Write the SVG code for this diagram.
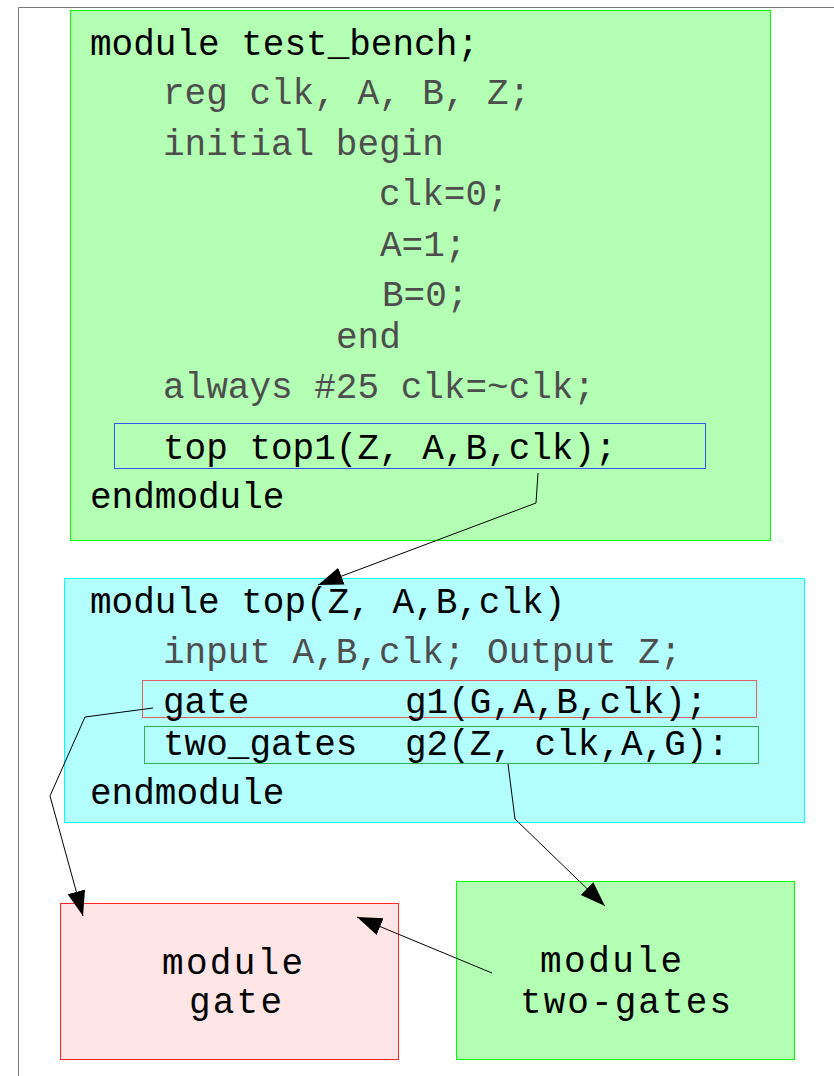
<svg xmlns="http://www.w3.org/2000/svg" width="834" height="1076" viewBox="0 0 834 1076">
  <style>
    .code { font-family: "Liberation Mono", "DejaVu Sans Mono", monospace; font-size: 36px; fill: #000; }
    .dim { fill: #4d4d4d; }
    .wire { fill: none; stroke: #000; stroke-width: 1; marker-end: url(#head); }
  </style>
  <defs>
    <marker id="head" markerUnits="userSpaceOnUse" markerWidth="26" markerHeight="20" refX="25" refY="9" orient="auto">
      <path d="M0,0 L25,9 L0,18 z" fill="#000"/>
    </marker>
  </defs>

  <rect width="834" height="1076" fill="#fff"/>
  <path d="M18.5,1076 V7.5 H834" fill="none" stroke="#777" stroke-width="1"/>

  <!-- test bench module -->
  <g id="test_bench">
    <rect x="70.5" y="10.5" width="700" height="530" fill="#b3ffb3" stroke="#00ff00"/>
    <text class="code" x="90" y="55">module test_bench;</text>
    <text class="code dim" x="163" y="104">reg clk, A, B, Z;</text>
    <text class="code dim" x="163" y="155">initial begin</text>
    <text class="code dim" x="379" y="205">clk=0;</text>
    <text class="code dim" x="380" y="256">A=1;</text>
    <text class="code dim" x="382" y="306">B=0;</text>
    <text class="code dim" x="336" y="348">end</text>
    <text class="code dim" x="163" y="398">always #25 clk=~clk;</text>
    <g id="inst_top1">
      <rect x="114.5" y="423.5" width="591" height="45" fill="none" stroke="#3355ee"/>
      <text class="code" x="163" y="459">top top1(Z, A,B,clk);</text>
    </g>
    <text class="code" x="90" y="508">endmodule</text>
  </g>

  <!-- top module -->
  <g id="top">
    <rect x="64.5" y="578.5" width="740" height="244" fill="#b3ffff" stroke="#00ffff"/>
    <text class="code" x="90" y="613">module top(Z, A,B,clk)</text>
    <text class="code dim" x="163" y="663">input A,B,clk; Output Z;</text>
    <g id="inst_g1">
      <rect x="142.5" y="680.5" width="614" height="37" fill="none" stroke="#e06060"/>
      <text class="code" x="163" y="713">gate</text>
      <text class="code" x="405" y="713">g1(G,A,B,clk);</text>
    </g>
    <g id="inst_g2">
      <rect x="144.5" y="726.5" width="614" height="37" fill="none" stroke="#33aa55"/>
      <text class="code" x="163" y="755">two_gates</text>
      <text class="code" x="405" y="755">g2(Z, clk,A,G):</text>
    </g>
    <text class="code" x="90" y="804">endmodule</text>
  </g>

  <!-- leaf modules -->
  <g id="gate">
    <rect x="60.5" y="903.5" width="338" height="156" fill="#ffe5e5" stroke="#ff2222"/>
    <text class="code" x="162" y="974" textLength="141">module</text>
    <text class="code" x="189" y="1013" textLength="93">gate</text>
  </g>
  <g id="two_gates">
    <rect x="456.5" y="881.5" width="338" height="178" fill="#b3ffb3" stroke="#00ff00"/>
    <text class="code" x="540" y="972" textLength="142">module</text>
    <text class="code" x="520" y="1013" textLength="211">two-gates</text>
  </g>

  <!-- instance links -->
  <g id="connectors">
    <path class="wire" d="M538,473 L536,503 L318,585"/>
    <path class="wire" d="M153,708 L85,717 L50,796 L83,916"/>
    <path class="wire" d="M508,764 L515,819 L605,906"/>
    <path class="wire" d="M492,973 L357,917"/>
  </g>
</svg>
